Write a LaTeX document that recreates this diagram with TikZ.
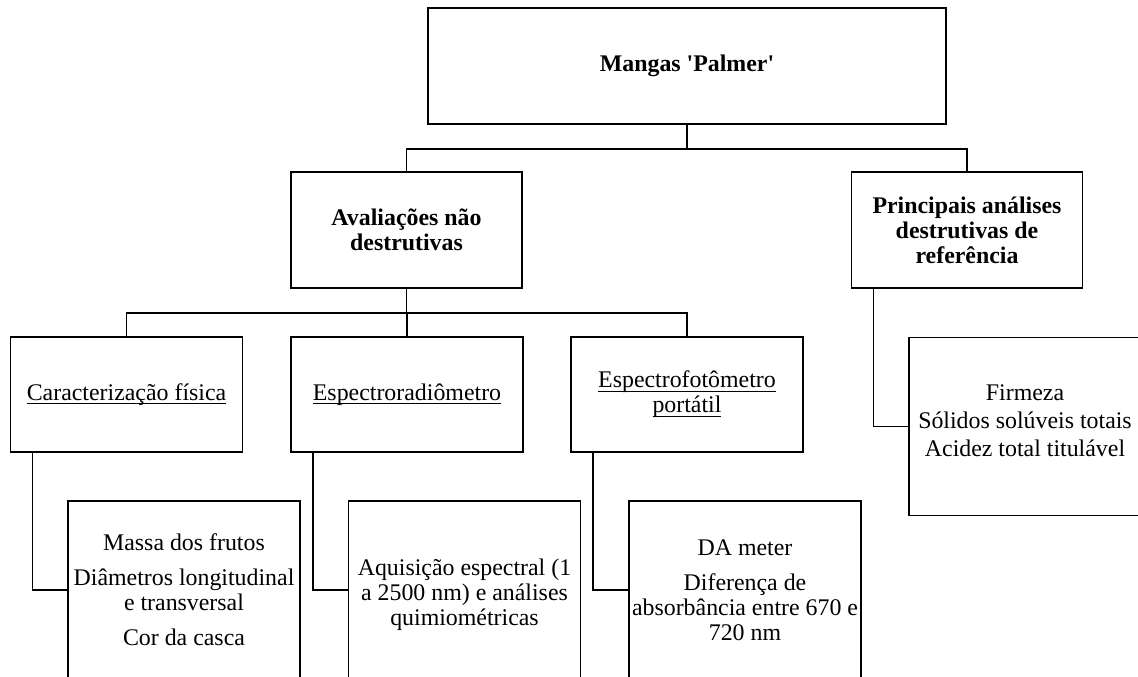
\documentclass[tikz,border=0pt]{standalone}
\usepackage{fontspec}
\newfontfamily\lib{Liberation Serif}
\newcommand\myul[1]{\setbox0\hbox{#1}\rlap{\rule[-3pt]{\wd0}{0.75pt}}\box0}
\begin{document}
\begin{tikzpicture}[x=0.75pt,y=-0.75pt]
\tikzset{
  box/.style={draw, line width=1.45pt, inner sep=0pt, align=center,
    font=\lib\fontsize{17.9pt}{18.75pt}\selectfont},
  hbox/.style={box, minimum width=173.25pt, minimum height=87pt,
    font=\lib\fontsize{17.9pt}{18.75pt}\selectfont\bfseries},
  mbox/.style={box, minimum width=174pt, minimum height=86.25pt},
  lbox/.style={box, minimum width=174pt, minimum height=133.5pt},
  conn/.style={line width=1pt}
}
\clip (0,0) rectangle (1138,677);
\node[hbox, minimum width=388.5pt] (top) at (687,66) {Mangas 'Palmer'};
\node[hbox] (aval) at (406.5,230) {Avaliações não\\destrutivas};
\node[hbox] (princ) at (967,230) {Principais análises\\destrutivas de\\referência};
\node[mbox] (car) at (126.5,394.5) {\myul{Caracterização física}};
\node[mbox] (espr) at (407,394.5) {\myul{Espectroradiômetro}};
\node[mbox] (espf) at (687,394.5) {\myul{Espectrofotômetro}\\\myul{portátil}};
\node[lbox] (massa) at (184,590) {Massa dos frutos\\[7.5pt]Diâmetros longitudinal\\e transversal\\[7.5pt]Cor da casca};
\node[lbox] (aqui) at (464.5,590) {\rule{0pt}{20pt}Aquisição espectral (1\\a 2500 nm) e análises\\quimiométricas};
\node[lbox] (da) at (745,590) {DA meter\\[7.5pt]Diferença de\\absorbância entre 670 e\\720 nm};
\node[lbox] (firm) at (1025,426.5) {Firmeza\\[2pt]Sólidos solúveis totais\\[2pt]Acidez total titulável\\[-9.75pt]\mbox{}};
\draw[conn] (top.south) -- ++(0,24) -| (aval.north);
\draw[conn] (top.south) -- ++(0,24) -| (princ.north);
\draw[conn] (aval.south) -- ++(0,24) -| (car.north);
\draw[conn] (aval.south) -- ++(0,24) -| (espr.north);
\draw[conn] (aval.south) -- ++(0,24) -| (espf.north);
\draw[conn] ([xshift=17.25pt]car.south west) |- (massa.west);
\draw[conn] ([xshift=17.25pt]espr.south west) |- (aqui.west);
\draw[conn] ([xshift=17.25pt]espf.south west) |- (da.west);
\draw[conn] ([xshift=17.25pt]princ.south west) |- (firm.west);
\end{tikzpicture}
\end{document}
